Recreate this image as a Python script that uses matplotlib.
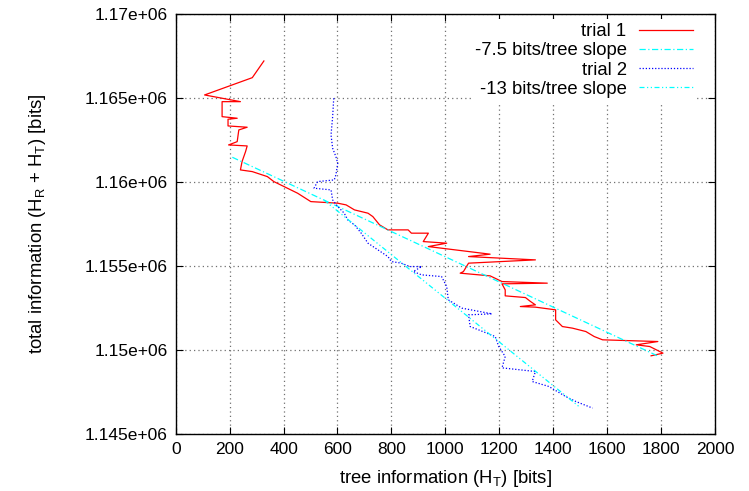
import numpy as np
import matplotlib
matplotlib.use('Agg')
import matplotlib.pyplot as plt
from matplotlib.ticker import FuncFormatter, MultipleLocator

# ========= DATA =========

trial1_x = [327, 284, 107, 240, 172, 172, 228, 194, 194, 265, 234, 228, 196, 265, 259,
            246, 240, 284, 340, 364, 402, 452, 501, 601, 632, 663, 713, 731, 756, 787,
            862, 874, 937, 918, 1005, 937, 1166, 1086, 1334, 1086, 1067, 1055, 1166,
            1210, 1378, 1210, 1222, 1222, 1297, 1316, 1334, 1278, 1334, 1409, 1409,
            1434, 1471, 1521, 1552, 1583, 1788, 1708, 1758, 1807, 1763]
trial1_y = [1167185, 1166191, 1165161, 1164762, 1164762, 1163869, 1163774, 1163715,
            1163316, 1163239, 1163078, 1162381, 1162185, 1162125, 1161786, 1161191,
            1160697, 1160596, 1160298, 1160001, 1159703, 1159310, 1158810, 1158715,
            1158614, 1158316, 1158120, 1157918, 1157424, 1157126, 1157126, 1156930,
            1156930, 1156430, 1156334, 1156132, 1155679, 1155537, 1155340, 1155144,
            1154644, 1154548, 1154388, 1154049, 1153953, 1153912, 1153554, 1153197,
            1153096, 1152858, 1152662, 1152561, 1152525, 1152364, 1151769, 1151370,
            1151275, 1151073, 1150775, 1150579, 1150477, 1150281, 1150180, 1149786,
            1149627]

trial2_x = [586, 582, 576, 582, 594, 601, 594, 588, 526, 513, 576, 582, 601, 625, 638,
            663, 688, 713, 750, 787, 800, 837, 868, 912, 881, 912, 986, 1005, 1011,
            1061, 1173, 1086, 1092, 1123, 1185, 1198, 1222, 1210, 1334, 1322, 1384,
            1446, 1484, 1546]
trial2_y = [1164965, 1163869, 1162780, 1161989, 1161489, 1161096, 1160399, 1160102,
            1160001, 1159608, 1159507, 1158911, 1158513, 1158120, 1157721, 1157424,
            1156929, 1156334, 1155935, 1155537, 1155239, 1155144, 1154941, 1154941,
            1154644, 1154447, 1154346, 1153751, 1152960, 1152466, 1152126, 1152067,
            1151370, 1151174, 1150775, 1150180, 1149585, 1148910, 1148692, 1148097,
            1147800, 1147204, 1146906, 1146513]

# fitted slopes
slope1_x = [210, 1790]
slope1_y = [1161450, 1161450 - 7.5 * (1790 - 210)]
slope2_x = [550, 1500]
slope2_y = [1158900, 1158900 - 13 * (1500 - 550)]

# ========= PLOT =========

plt.rcParams['font.family'] = ['Liberation Sans', 'DejaVu Sans']
plt.rcParams['mathtext.default'] = 'regular'
fs = 13.3

fig = plt.figure(figsize=(7.49, 4.91), dpi=100)
ax = fig.add_axes([0.2346, 0.1171, 0.72, 0.855])

ax.plot(trial1_x, trial1_y, color='#ff0000', lw=0.9, label='trial 1')
ax.plot(slope1_x, slope1_y, color='#00ffff', lw=0.9, linestyle=(0, (5, 2, 1, 2)),
        label='-7.5 bits/tree slope')
ax.plot(trial2_x, trial2_y, color='#0000ff', lw=0.9, linestyle=(0, (1, 1.5)),
        label='trial 2')
ax.plot(slope2_x, slope2_y, color='#00ffff', lw=0.9, linestyle=(0, (4, 2, 1, 2, 1, 2)),
        label='-13 bits/tree slope')

ax.set_xlim(0, 2000)
ax.set_ylim(1.145e6, 1.17e6)
ax.xaxis.set_major_locator(MultipleLocator(200))
ax.yaxis.set_major_locator(MultipleLocator(5000))
ax.yaxis.set_major_formatter(FuncFormatter(lambda v, p: '%g' % v))

ax.tick_params(direction='in', length=5, width=0.8, labelsize=12.5,
               top=True, right=True, pad=6)
ax.grid(True, color='#707070', linestyle=(0, (1, 2.5)), lw=0.9)
for s in ax.spines.values():
    s.set_linewidth(1.0)

ax.set_xlabel('tree information (H$_T$) [bits]', fontsize=fs, labelpad=8)
ax.set_ylabel('total information (H$_R$ + H$_T$) [bits]', fontsize=fs, labelpad=26)

leg = ax.legend(loc='upper right', bbox_to_anchor=(0.973, 0.995), frameon=True,
                markerfirst=False, fontsize=fs, handlelength=2.9, labelspacing=0.12,
                handletextpad=0.7, borderaxespad=0.2, borderpad=0.2, fancybox=False,
                framealpha=1)
leg.get_frame().set_edgecolor('none')
leg.get_frame().set_facecolor('white')

fig.savefig('out.png', dpi=100)
